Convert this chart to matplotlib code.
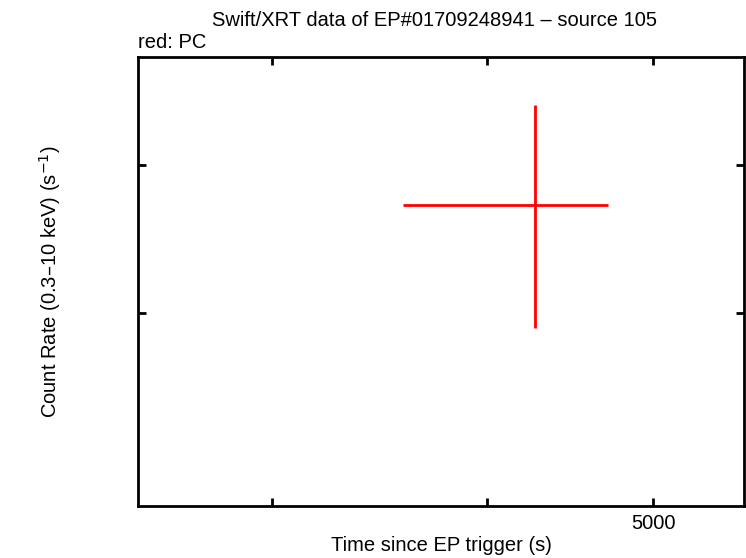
import matplotlib
matplotlib.use("Agg")
import matplotlib.pyplot as plt
from matplotlib.ticker import FixedLocator, FixedFormatter, NullLocator

plt.rcParams['font.family'] = ['Liberation Sans', 'DejaVu Sans']

# PC mode point (time in s, rate in counts/s)
t_pc = [4269]
t_lo = [4269 - 3576]
t_hi = [4707 - 4269]
rate_pc = [0.0370]
rate_lo = [0.0079]
rate_hi = [0.0079]

x_ticks = [3000, 4000, 5000]
x_labels = ['', '', '5000']
y_ticks = [0.03, 0.04]

fig = plt.figure(figsize=(7.46, 5.58), dpi=100)
ax = fig.add_axes([138/746, 52/558, 606/746, 449/558])

ax.errorbar(t_pc, rate_pc, xerr=[t_lo, t_hi], yerr=[rate_lo, rate_hi],
            fmt='none', ecolor='#ff0000', elinewidth=2, capsize=0)

ax.set_xscale('log')
ax.set_yscale('log')
ax.set_xlim(2506, 5649)
ax.set_ylim(0.0206, 0.0493)

ax.xaxis.set_major_locator(FixedLocator(x_ticks))
ax.xaxis.set_major_formatter(FixedFormatter(x_labels))
ax.xaxis.set_minor_locator(NullLocator())
ax.yaxis.set_major_locator(FixedLocator(y_ticks))
ax.yaxis.set_major_formatter(FixedFormatter(['', '']))
ax.yaxis.set_minor_locator(NullLocator())

ax.tick_params(which='both', direction='in', length=6, width=2,
               top=True, right=True, labelsize=14.5, pad=6)
for s in ax.spines.values():
    s.set_linewidth(2)

ax.set_xlabel('Time since EP trigger (s)', fontsize=14.5, labelpad=2)
ax.set_ylabel('Count Rate (0.3\u201310 keV) (s$^{-1}$)', fontsize=14.5, labelpad=48)
fig.text(434/746, 1 - 20/558, 'Swift/XRT data of EP#01709248941 \u2013 source 105',
         ha='center', va='center', fontsize=14.5)
fig.text(138/746, 1 - 42/558, 'red: PC', ha='left', va='center', fontsize=14.5)

fig.savefig('out.png', dpi=100)
